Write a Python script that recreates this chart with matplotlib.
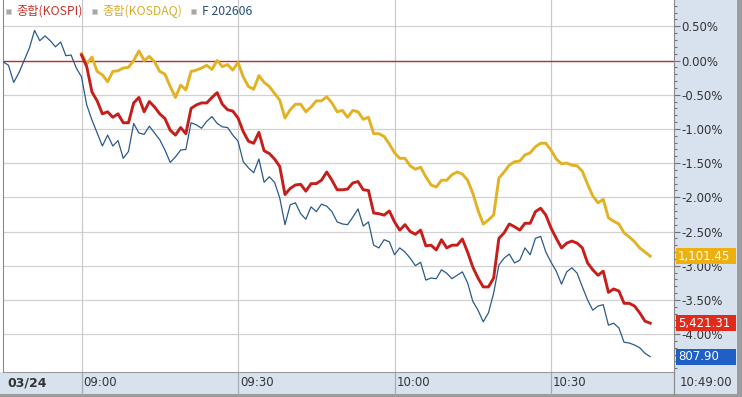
import numpy as np
import matplotlib
matplotlib.use("Agg")
import matplotlib.pyplot as plt
from matplotlib.patches import Rectangle
from matplotlib import transforms as mtrans
from matplotlib.ticker import FixedLocator, MultipleLocator, FuncFormatter

# minutes from 09:00, one value per minute bar (% change)
FUT_START = -15   # futures open 08:45
IDX_START = 0     # cash indices open 09:00

fut = [-0.02, -0.07, -0.32, -0.18, 0.00, 0.18, 0.44, 0.29, 0.36, 0.29, 0.20, 0.27, 0.07, 0.08, -0.11,
       -0.24, -0.65, -0.87, -1.06, -1.25, -1.09, -1.25, -1.17, -1.43, -1.33,
       -0.92, -1.06, -1.08, -0.96, -1.06, -1.16, -1.31, -1.49, -1.41, -1.31,
       -1.30, -0.91, -0.94, -0.99, -0.89, -0.82, -0.92, -0.97, -0.98, -1.09,
       -1.18, -1.48, -1.57, -1.64, -1.44, -1.78, -1.70, -1.78, -2.01, -2.40,
       -2.11, -2.08, -2.24, -2.32, -2.14, -2.21, -2.10, -2.13, -2.21, -2.36,
       -2.39, -2.40, -2.29, -2.17, -2.42, -2.36, -2.70, -2.74, -2.62, -2.65,
       -2.84, -2.74, -2.80, -2.89, -3.00, -2.95, -3.21, -3.18, -3.19, -3.06,
       -3.11, -3.19, -3.14, -3.09, -3.25, -3.52, -3.65, -3.82, -3.69, -3.40,
       -2.99, -2.89, -2.83, -2.96, -2.92, -2.74, -2.84, -2.60, -2.57, -2.80,
       -2.95, -3.08, -3.27, -3.09, -3.03, -3.11, -3.31, -3.50, -3.65, -3.59,
       -3.57, -3.87, -3.84, -3.91, -4.12, -4.13, -4.16, -4.20, -4.28, -4.33]

kospi = [0.08, -0.09, -0.46, -0.59, -0.78, -0.75, -0.83, -0.78, -0.91, -0.91,
         -0.62, -0.54, -0.75, -0.60, -0.68, -0.78, -0.85, -1.02, -1.09, -0.98,
         -1.07, -0.70, -0.65, -0.62, -0.62, -0.54, -0.47, -0.64, -0.72, -0.74,
         -0.84, -1.04, -1.18, -1.21, -1.05, -1.32, -1.36, -1.44, -1.55, -1.96,
         -1.87, -1.82, -1.81, -1.91, -1.80, -1.80, -1.75, -1.63, -1.75, -1.89,
         -1.89, -1.88, -1.79, -1.77, -1.89, -1.90, -2.23, -2.24, -2.26, -2.20,
         -2.36, -2.48, -2.40, -2.50, -2.54, -2.48, -2.71, -2.70, -2.77, -2.62,
         -2.74, -2.70, -2.70, -2.61, -2.80, -3.02, -3.18, -3.31, -3.31, -3.18,
         -2.60, -2.52, -2.39, -2.43, -2.48, -2.38, -2.38, -2.21, -2.16, -2.26,
         -2.45, -2.60, -2.74, -2.67, -2.64, -2.67, -2.74, -2.96, -3.06, -3.14,
         -3.08, -3.39, -3.34, -3.37, -3.55, -3.55, -3.59, -3.69, -3.81, -3.84]

kosdaq = [0.10, -0.05, 0.05, -0.16, -0.21, -0.31, -0.16, -0.15, -0.11, -0.10,
          0.00, 0.14, 0.00, 0.06, -0.02, -0.16, -0.20, -0.38, -0.54, -0.36,
          -0.43, -0.16, -0.14, -0.11, -0.07, -0.13, 0.00, -0.09, -0.06, -0.14,
          -0.03, -0.24, -0.38, -0.42, -0.22, -0.32, -0.38, -0.48, -0.58, -0.84,
          -0.72, -0.64, -0.64, -0.75, -0.68, -0.59, -0.59, -0.53, -0.62, -0.75,
          -0.73, -0.83, -0.73, -0.75, -0.86, -0.83, -1.07, -1.07, -1.11, -1.22,
          -1.35, -1.43, -1.43, -1.54, -1.59, -1.56, -1.70, -1.82, -1.85, -1.75,
          -1.75, -1.67, -1.63, -1.66, -1.75, -1.94, -2.19, -2.39, -2.33, -2.26,
          -1.72, -1.63, -1.53, -1.48, -1.47, -1.38, -1.35, -1.26, -1.21, -1.21,
          -1.31, -1.44, -1.51, -1.50, -1.53, -1.54, -1.62, -1.81, -1.98, -2.08,
          -2.03, -2.30, -2.35, -2.39, -2.52, -2.58, -2.65, -2.74, -2.80, -2.86]

time_ticks  = [0, 30, 60, 90]
time_labels = ["09:00", "09:30", "10:00", "10:30"]
y_ticks     = [0.5, 0.0, -0.5, -1.0, -1.5, -2.0, -2.5, -3.0, -3.5, -4.0]
last_labels = {"kosdaq": "1,101.45", "kospi": "5,421.31", "fut": "807.90"}
legend_names = ["종합(KOSPI)", "종합(KOSDAQ)", "F 202606"]

C_KOSPI  = "#c61f1b"
C_KOSDAQ = "#e2b224"
C_FUT    = "#2b5a8a"
BAND     = "#d8e2ee"
FONT     = ["Liberation Sans Narrow", "DejaVu Sans"]
KFONT    = ["Noto Sans CJK KR", "DejaVu Sans"]

W, H = 742, 397
fig = plt.figure(figsize=(W / 100, H / 100), dpi=100)
fig.patch.set_facecolor("white")


def fx(px):
    return px / W


def fy(py):
    return 1 - py / H


def frect(x0, y0, x1, y1, **kw):
    fig.add_artist(Rectangle((fx(x0), fy(y1)), fx(x1 - x0), (y1 - y0) / H,
                             transform=fig.transFigure, **kw))


# frame bands
frect(674, 0, 737, 394, facecolor=BAND, edgecolor="none", zorder=0)
frect(0, 372, 737, 394, facecolor=BAND, edgecolor="none", zorder=0)
frect(737, 0, 742, 397, facecolor="#9c9c9c", edgecolor="none", zorder=0)
frect(0, 394, 742, 397, facecolor="#9c9c9c", edgecolor="none", zorder=0)

ax = fig.add_axes([fx(3), fy(372), fx(673.5 - 3), 372 / H])
ax.set_facecolor("white")
ax.set_xlim(-15.05, 113.47)
ax.set_ylim(-4.554, 0.8845)

ax.spines["top"].set_visible(False)
ax.spines["left"].set_color("#8a8a8a")
ax.spines["right"].set_color("#8a8a8a")
ax.spines["bottom"].set_color("#9a9a9a")

# grid
for v in y_ticks:
    if v != 0:
        ax.axhline(v, color="#d2d2d2", lw=0.9, zorder=1)
for t in time_ticks:
    ax.axvline(t, color="#cacaca", lw=0.9, zorder=1)
ax.axhline(0, color="#c0282a", lw=1.0, zorder=2)

# series
fut_t = np.arange(len(fut)) + FUT_START
idx_t = np.arange(len(kospi)) + IDX_START
ax.plot(fut_t, fut, color=C_FUT, lw=0.9, zorder=3)
ax.plot(idx_t, kosdaq, color=C_KOSDAQ, lw=2.1, zorder=4, solid_joinstyle="round")
ax.plot(idx_t, kospi, color=C_KOSPI, lw=2.1, zorder=5, solid_joinstyle="round")

# right axis ticks
ax.yaxis.tick_right()
ax.yaxis.set_major_locator(FixedLocator(y_ticks))
ax.yaxis.set_minor_locator(MultipleLocator(0.1))
ax.yaxis.set_major_formatter(FuncFormatter(lambda v, _: f"{v:.2f}%"))
ax.tick_params(axis="y", which="major", length=4, width=0.8, color="#707070",
               pad=1.5, labelsize=8.5, labelcolor="#333333")
ax.tick_params(axis="y", which="minor", length=2, width=0.8, color="#707070")
for lab in ax.get_yticklabels():
    lab.set_family(FONT)

# bottom time axis (drawn by hand in the band)
ax.set_xticks([])
bt = mtrans.blended_transform_factory(ax.transData, ax.transAxes)
band_h = 22 / 372
for t, lab in zip(time_ticks, time_labels):
    ax.plot([t, t], [0, -band_h], transform=bt, clip_on=False,
            color="#a4acb6", lw=0.9)
    ax.text(t + 0.35, -band_h / 2, lab, transform=bt, ha="left", va="center",
            fontsize=8.5, color="#333333", family=FONT)
fig.add_artist(plt.Line2D([fx(673.5), fx(673.5)], [fy(394), fy(372)],
                          transform=fig.transFigure, color="#8a8a8a", lw=0.9))
fig.text(fx(7), fy(382.5), "03/24", fontsize=9, fontweight="bold",
         color="#333333", va="center", ha="left", family=FONT)
fig.text(fx(705.5), fy(382.5), "10:49:00", fontsize=8.5, color="#333333",
         va="center", ha="center", family=FONT)

# last-value boxes on right axis
bl = mtrans.blended_transform_factory(fig.transFigure, ax.transData)
box_h = 16 / 68.4
for vals, key, col in ((kosdaq, "kosdaq", "#eeb010"), (kospi, "kospi", "#e02a1c"),
                       (fut, "fut", "#1f5fc6")):
    y = vals[-1]
    ax.add_artist(Rectangle((fx(676), y - box_h / 2), fx(60), box_h,
                            transform=bl, facecolor=col, edgecolor="none",
                            clip_on=False, zorder=10))
    ax.text(fx(678), y, last_labels[key], transform=bl, ha="left", va="center",
            fontsize=8.5, color="white", family=FONT, clip_on=False, zorder=11)

# legend row
leg_x = [(5.5, 16), (92, 102), (191.5, 202)]
leg_c = ["#c8322c", "#d6ad2a", "#2c4f78"]
for (sx, tx), name, col in zip(leg_x, legend_names, leg_c):
    frect(sx, 8.5, sx + 5, 13.5, facecolor="#a6a6a6", edgecolor="#cfcfcf",
          lw=0.6, zorder=20)
    fig.text(fx(tx), fy(11.5), name, fontsize=8.8, color=col, va="center",
             ha="left", family=KFONT, zorder=20)

fig.savefig("out.png", dpi=100)
